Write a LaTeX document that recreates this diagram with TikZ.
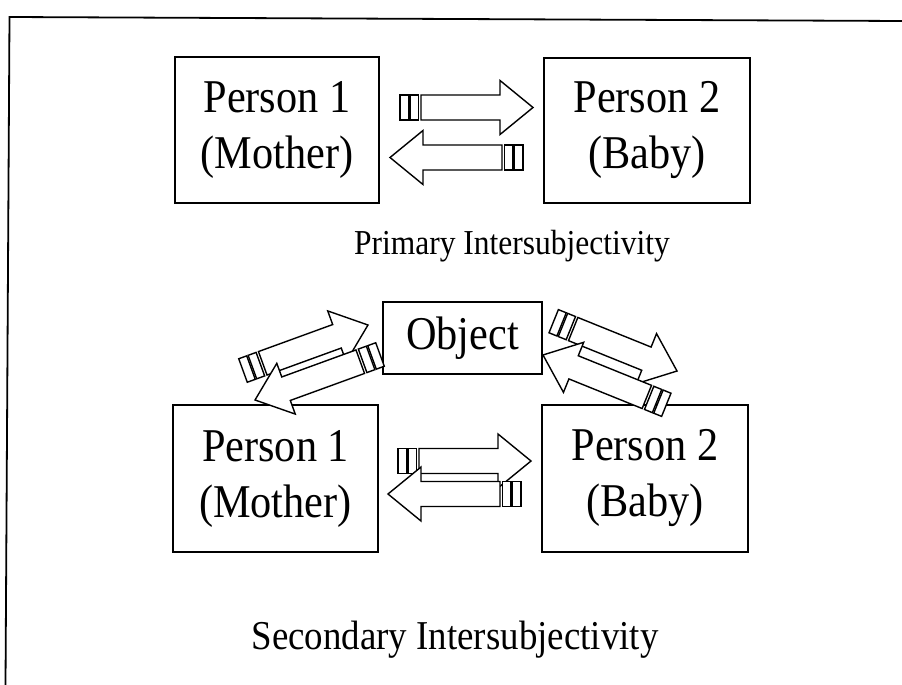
\documentclass[tikz,border=0pt]{standalone}
\usepackage{fontspec}
\setmainfont{Liberation Serif}
\newfontfamily\reffont[FakeStretch=0.9]{Liberation Serif}
\newcommand\personfont{\reffont\fontsize{47}{56}\selectfont}
\newcommand\primfont{\reffont\fontsize{35}{40}\selectfont}
\newcommand\secfont{\reffont\fontsize{41}{46}\selectfont}
\newcommand\fatarrow[2]{%
  \begin{scope}[shift={#1}, rotate=#2]
    \draw[arrowline] (21,-12.5) -- (100,-12.5) -- (100,-27) -- (133,0) -- (100,27) -- (100,12.5) -- (21,12.5) -- cycle;
    \draw[arrowline] (0,-12.5) rectangle (8.5,12.5);
    \draw[arrowline] (10,-12.5) rectangle (18.5,12.5);
  \end{scope}}
\tikzset{
  box/.style={draw, line width=1.8pt, rectangle, inner sep=0pt, align=center, font=\personfont},
  arrowline/.style={draw=black, fill=white, line width=1.4pt, line join=miter},
  frame/.style={line width=1.8pt},
  caption/.style={anchor=base, inner sep=0pt}
}
\begin{document}
\begin{tikzpicture}[x=1pt, y=-1pt]
  \useasboundingbox (0,0) rectangle (902,685);
  % frame
  \draw[frame] (5.5,685) -- (9.5,17) -- (902,21);
  % top
  \node[box, minimum width=204pt, minimum height=146pt] (p1a) at (277,130) {Person 1\\(Mother)};
  \node[box, minimum width=206pt, minimum height=145pt] (p2a) at (647,130.5) {Person 2\\(Baby)};
  \node[caption, font=\primfont] (prim) at (512,254) {Primary Intersubjectivity};
  % bottom
  \node[box, minimum width=159pt, minimum height=72pt] (obj) at (462.5,338) {Object};
  \node[box, minimum width=205pt, minimum height=147pt] (p1b) at (275.5,478.5) {Person 1\\(Mother)};
  \node[box, minimum width=206pt, minimum height=147pt] (p2b) at (645,478.5) {Person 2\\(Baby)};
  \node[caption, font=\secfont] (sec) at (455,649) {Secondary Intersubjectivity};
  % arrow tails
  \coordinate (t1) at (400,107.5);
  \coordinate (t2) at (523,157.5);
  \coordinate (t3) at (398,461);
  \coordinate (t4) at (521,494);
  \coordinate (tA) at (243,370.5);
  \coordinate (tB) at (380,354.5);
  \coordinate (tC) at (553.7,321.2);
  \coordinate (tD) at (666.3,404.8);
  % top pair
  \fatarrow{(t1)}{0}
  \fatarrow{(t2)}{180}
  % bottom pair
  \fatarrow{(t3)}{0}
  \fatarrow{(t4)}{180}
  % object pairs
  \fatarrow{(tA)}{20}
  \fatarrow{(tB)}{200}
  \fatarrow{(tC)}{-22}
  \fatarrow{(tD)}{158}
\end{tikzpicture}
\end{document}
